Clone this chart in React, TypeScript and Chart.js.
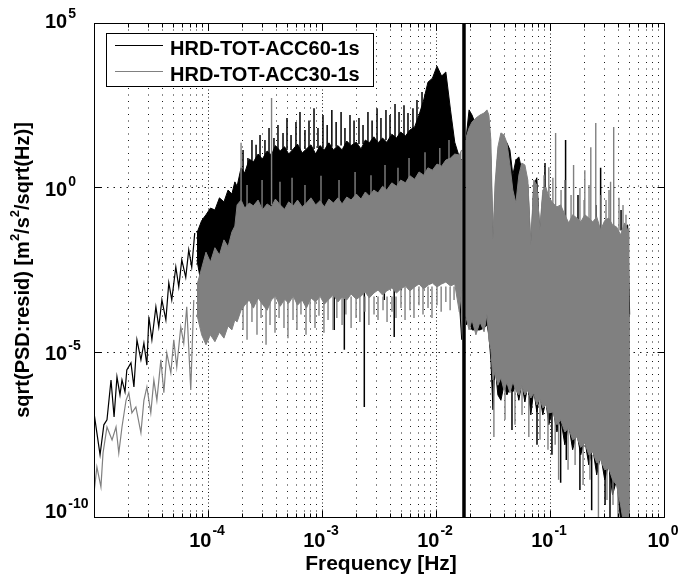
import React, { useEffect, useRef } from 'react';
import { Chart, registerables } from 'chart.js';

Chart.register(...registerables);

// ---------------- HRD-TOT-ACC60-1s (black) ----------------
const acc60LowF = [1.0e-5, 1.06e-5, 1.13e-5, 1.22e-5, 1.30e-5, 1.41e-5, 1.50e-5, 1.59e-5, 1.69e-5, 1.76e-5, 1.87e-5, 1.94e-5, 2.11e-5, 2.24e-5, 2.38e-5, 2.58e-5, 2.74e-5, 2.91e-5, 3.03e-5, 3.22e-5, 3.49e-5, 3.70e-5, 3.94e-5, 4.27e-5, 4.53e-5, 4.81e-5, 5.22e-5, 5.54e-5, 5.89e-5, 6.38e-5, 6.78e-5, 7.20e-5, 7.65e-5];
const acc60LowV = [1.45e-7, 3.6e-8, 7.7e-9, 6.3e-8, 8.9e-8, 1.45e-6, 1.1e-7, 1.8e-6, 5.1e-7, 1.45e-6, 6.3e-7, 2.9e-6, 4.8e-6, 8.9e-7, 2.4e-5, 5.9e-6, 1.9e-5, 4.1e-6, 1.2e-4, 2.4e-5, 2.4e-4, 5.9e-5, 3.9e-4, 9.6e-5, 1.3e-3, 3.9e-4, 3.9e-3, 9.7e-4, 6.4e-3, 1.9e-3, 1.3e-2, 3.9e-3, 4.2e-2];

// shared frequency grid of the dense band below the 0.0176 Hz line
const bandF = [8.0e-5, 8.8e-5, 9.6e-5, 1.05e-4, 1.15e-4, 1.26e-4, 1.38e-4, 1.5e-4, 1.62e-4, 1.72e-4, 1.8e-4, 1.95e-4, 2.1e-4, 2.3e-4, 2.5e-4, 2.75e-4, 3.0e-4, 3.3e-4, 3.6e-4, 3.9e-4, 4.3e-4, 4.7e-4, 5.1e-4, 5.6e-4, 6.1e-4, 6.7e-4, 7.3e-4, 8.0e-4, 8.8e-4, 9.6e-4, 1.05e-3, 1.15e-3, 1.26e-3, 1.38e-3, 1.5e-3, 1.65e-3, 1.8e-3, 2.0e-3, 2.2e-3, 2.4e-3, 2.6e-3, 2.85e-3, 3.1e-3, 3.4e-3, 3.7e-3, 4.1e-3, 4.5e-3, 4.9e-3, 5.4e-3, 5.9e-3, 6.5e-3, 7.1e-3, 7.8e-3, 8.5e-3, 9.3e-3, 1.02e-2, 1.12e-2, 1.22e-2, 1.34e-2, 1.46e-2, 1.6e-2, 1.68e-2];
const acc60BandHi = [0.042, 0.10, 0.15, 0.24, 0.21, 0.49, 0.37, 0.85, 0.64, 1.5, 1.1, 4.0, 2.8, 7.4, 6.0, 10.5, 7.4, 13, 9.8, 19, 13, 17.5, 10.5, 15, 21, 11.3, 15, 20, 10.5, 19, 14, 23, 14, 19, 14, 26, 19, 24, 15, 28, 23, 35, 23, 32, 24, 42, 32, 49, 37, 56, 70, 160, 460, 1600, 2100, 4900, 2450, 3250, 230, 24, 8.6, 6.9];
const acc60BandLo = [6.4e-3, 1.0e-3, 1.1e-3, 5.5e-4, 1.6e-3, 7.8e-4, 2.2e-3, 1.1e-3, 3.2e-3, 2.2e-3, 6.4e-3, 4.5e-3, 9e-3, 5.5e-3, 1.3e-2, 7.3e-3, 1.5e-2, 9e-3, 1.3e-2, 9e-3, 1.5e-2, 7.3e-3, 1.3e-2, 9e-3, 1.3e-2, 9e-3, 1.5e-2, 9e-3, 1.3e-2, 9e-3, 1.5e-2, 9e-3, 1.3e-2, 1.3e-2, 1.5e-2, 1.5e-2, 9e-3, 1.3e-2, 9e-3, 1.3e-2, 1.5e-2, 1.3e-2, 1.8e-2, 1.3e-2, 1.8e-2, 1.8e-2, 2.6e-2, 2.0e-2, 3.0e-2, 2.6e-2, 3.7e-2, 4.5e-2, 5.2e-2, 6.0e-2, 7.4e-2, 7.4e-2, 0.1, 0.12, 0.15, 0.15, 3.9e-4, 2.4e-5];

// shared frequency grid above the 0.0176 Hz line
const highF = [0.0183, 0.0195, 0.0207, 0.0224, 0.0243, 0.0264, 0.028, 0.0291, 0.0303, 0.0316, 0.0329, 0.0349, 0.0371, 0.0394, 0.0419, 0.0445, 0.0472, 0.0502, 0.0533, 0.0566, 0.0602, 0.0639, 0.0679, 0.0721, 0.0766, 0.0814, 0.0865, 0.0919, 0.0976, 0.106, 0.115, 0.124, 0.135, 0.146, 0.158, 0.172, 0.186, 0.202, 0.219, 0.237, 0.257, 0.278, 0.302, 0.327, 0.354, 0.384, 0.416, 0.451, 0.48, 0.5];
const acc60HighHi = [28, 230, 160, 80, 99, 110, 130, 99, 6.9, 0.018, 0.42, 12, 28, 28, 23, 14, 2.4, 6.9, 8.6, 3.4, 3.0, 1.2, 0.013, 1.2, 2.0, 0.037, 0.6, 0.69, 0.42, 0.26, 0.18, 0.21, 0.10, 0.069, 0.10, 0.085, 0.069, 0.10, 0.091, 0.069, 0.091, 0.042, 0.074, 0.085, 0.052, 0.045, 0.026, 0.060, 0.074, 1.4e-4];
const acc60HighLo = [6.8e-5, 8.4e-5, 4.8e-5, 4.8e-5, 4.8e-5, 5.5e-5, 6.8e-5, 3.4e-5, 5.9e-6, 1.8e-7, 4.1e-6, 5.1e-7, 3.5e-7, 1.0e-6, 5.1e-7, 8.3e-7, 6.3e-7, 1.0e-6, 3.5e-7, 1.2e-6, 3.1e-7, 1.0e-6, 1.26e-7, 7.2e-7, 1.55e-7, 5.1e-7, 1.26e-7, 3.5e-7, 6.3e-8, 2.05e-7, 3.8e-8, 1.0e-7, 1.55e-8, 6.3e-8, 1.1e-8, 3.6e-8, 7.7e-9, 2.2e-8, 3.8e-9, 1.25e-8, 1.9e-9, 7.7e-9, 1.35e-9, 3.8e-9, 4.7e-10, 1.35e-9, 8e-11, 2e-11, 2e-11, 2e-11];

// narrow spikes (frequency, start value, end value)
const acc60UpF = [2.03e-4, 2.24e-4, 2.43e-4, 2.64e-4, 2.86e-4, 3.16e-4, 3.43e-4, 3.79e-4, 4.11e-4, 4.55e-4, 4.93e-4, 5.35e-4, 5.91e-4, 6.41e-4, 7.09e-4, 7.69e-4, 8.51e-4, 9.22e-4, 1.02e-3, 1.11e-3, 1.22e-3, 1.33e-3, 1.47e-3, 1.59e-3, 1.76e-3, 1.91e-3, 2.11e-3, 2.29e-3, 2.53e-3, 2.75e-3, 3.04e-3, 3.29e-3, 3.64e-3, 3.95e-3, 4.37e-3, 4.74e-3, 5.24e-3, 5.68e-3, 6.28e-3, 6.81e-3, 7.54e-3];
const acc60UpFrom = [3.0, 4.0, 5.6, 6.9, 8.6, 9.8, 11.3, 12, 13, 14, 14, 14, 14, 14, 15, 15, 15, 16, 16, 16, 17.5, 17.5, 19, 19, 20, 20, 21, 21, 23, 23, 24, 26, 28, 30, 32, 35, 37, 42, 56, 85, 230];
const acc60UpTo = [14, 7.9, 28, 20, 40, 28, 65, 32, 80, 46, 130, 40, 99, 200, 56, 110, 260, 65, 160, 80, 230, 99, 200, 65, 160, 110, 130, 80, 200, 110, 260, 130, 230, 160, 350, 200, 320, 185, 260, 460, 800];

const acc60SpikeF = [1.28e-3, 1.57e-3, 2.35e-3, 3.52e-3, 4.30e-3, 4.96e-3, 0.137, 0.278, 0.0904, 0.176, 0.253, 0.420, 0.124, 0.139, 0.232, 0.0464, 0.0769, 0.104, 0.183, 0.304, 0.336];
const acc60SpikeFrom = [9e-3, 9e-3, 9e-3, 1.3e-2, 1.8e-2, 2.6e-2, 0.05, 0.05, 0.05, 0.05, 0.05, 0.05, 1e-7, 4.4e-8, 7.7e-9, 1e-6, 3e-7, 2e-7, 2e-8, 5e-9, 4e-9];
const acc60SpikeTo = [4.8e-5, 1.2e-5, 2.2e-7, 3.9e-4, 2.9e-5, 7.8e-4, 28, 4.0, 5.6, 0.6, 0.3, 0.21, 1.1e-9, 5.4e-9, 1.6e-10, 4.4e-8, 1.55e-8, 7.7e-9, 6.6e-10, 2.3e-10, 1e-10];

const acc60NotchF = [0.0176, 0.0176];
const acc60NotchV = [1e6, 1e-11];

// ---------------- HRD-TOT-ACC30-1s (gray) ----------------
const acc30LowF = [1.0e-5, 1.06e-5, 1.15e-5, 1.20e-5, 1.30e-5, 1.44e-5, 1.56e-5, 1.65e-5, 1.76e-5, 1.91e-5, 2.02e-5, 2.15e-5, 2.33e-5, 2.58e-5, 2.74e-5, 2.91e-5, 3.15e-5, 3.35e-5, 3.56e-5, 3.86e-5, 4.10e-5, 4.35e-5, 4.72e-5, 5.01e-5, 5.32e-5, 5.77e-5, 6.13e-5, 6.51e-5, 7.06e-5, 7.50e-5];
const acc30LowV = [5.4e-10, 3.3e-9, 8.2e-10, 8.8e-9, 5.4e-8, 2.2e-8, 5.4e-8, 8.8e-9, 5.4e-8, 3.5e-7, 5.9e-7, 1.45e-7, 2.2e-7, 3.6e-8, 3.5e-7, 8.9e-7, 1.45e-7, 1.45e-6, 3.5e-7, 5.9e-6, 5.9e-7, 9.6e-6, 2.4e-6, 2.4e-5, 3.6e-6, 5.9e-5, 1.9e-5, 2.4e-4, 7.2e-7, 3.9e-4];

const acc30BandHi = [1.1e-3, 3.6e-3, 0.011, 5.5e-3, 0.015, 9e-3, 0.026, 0.016, 0.045, 0.068, 0.30, 0.42, 0.24, 0.34, 0.28, 0.42, 0.21, 0.32, 0.26, 0.45, 0.30, 0.22, 0.37, 0.28, 0.42, 0.26, 0.34, 0.49, 0.30, 0.40, 0.26, 0.45, 0.34, 0.49, 0.32, 0.52, 0.42, 0.64, 0.45, 0.74, 0.56, 0.85, 0.69, 1.1, 0.85, 1.4, 1.1, 1.7, 1.4, 2.3, 1.8, 3.0, 2.4, 4.0, 3.4, 5.2, 4.5, 6.9, 7.9, 10.5, 9.8, 14];
const acc30BandLo = [1.4e-4, 3.4e-5, 1.7e-5, 3.4e-5, 2.1e-5, 4.1e-5, 2.7e-5, 6.3e-5, 4.8e-5, 9.6e-5, 8.4e-5, 1.9e-4, 2.7e-4, 3.9e-4, 2.2e-4, 4.5e-4, 2.9e-4, 1.9e-4, 3.9e-4, 5.1e-4, 2.5e-4, 4.1e-4, 3.1e-4, 5.1e-4, 2.7e-4, 3.9e-4, 2.2e-4, 4.5e-4, 3.4e-4, 5.1e-4, 2.9e-4, 4.1e-4, 5.5e-4, 3.4e-4, 4.8e-4, 3.9e-4, 5.9e-4, 4.1e-4, 5.1e-4, 6.8e-4, 4.5e-4, 6.3e-4, 7.8e-4, 5.5e-4, 7.3e-4, 9.0e-4, 6.3e-4, 8.4e-4, 1.03e-3, 7.3e-4, 9.7e-4, 1.19e-3, 8.4e-4, 1.1e-3, 1.27e-3, 9.7e-4, 1.19e-3, 1.36e-3, 1.03e-3, 1.19e-3, 1.7e-4, 7.8e-4];

const acc30HighHi = [32, 65, 99, 130, 160, 185, 230, 160, 28, 0.026, 1.2, 17, 46, 40, 23, 4.9, 0.85, 0.34, 2.4, 5.6, 4.9, 1.7, 0.018, 1.7, 1.2, 0.052, 0.85, 1.05, 0.52, 0.34, 0.26, 0.30, 0.15, 0.085, 0.15, 0.12, 0.091, 0.15, 0.12, 0.091, 0.13, 0.052, 0.10, 0.12, 0.074, 0.064, 0.037, 0.085, 0.052, 0.060];
const acc30HighLo = [1.2e-4, 4.8e-5, 9.6e-5, 3.4e-5, 8.4e-5, 4.2e-5, 1.4e-4, 2.4e-5, 1.2e-5, 1.45e-6, 2.5e-6, 1.0e-6, 1.7e-6, 7.2e-7, 1.2e-6, 5.9e-7, 1.26e-6, 7.2e-7, 5.1e-7, 1.0e-6, 5.1e-7, 7.2e-7, 4.1e-7, 5.9e-7, 2.5e-7, 4.1e-7, 2.05e-7, 2.5e-7, 1.45e-7, 1.55e-7, 6.3e-8, 8.9e-8, 3.8e-8, 5.1e-8, 2.2e-8, 2.7e-8, 1.3e-8, 1.8e-8, 7.7e-9, 9.5e-9, 4.4e-9, 5.4e-9, 2.7e-9, 3.1e-9, 1.35e-9, 9.4e-10, 2.3e-10, 4e-11, 2e-11, 2e-11];

const acc30DownF = [2.03e-4, 2.20e-4, 2.43e-4, 2.69e-4, 2.92e-4, 3.23e-4, 3.50e-4, 3.87e-4, 4.20e-4, 4.64e-4, 5.03e-4, 5.57e-4, 6.03e-4, 6.54e-4, 7.24e-4, 7.85e-4, 8.68e-4, 9.41e-4, 1.04e-3, 1.13e-3, 1.25e-3, 1.35e-3, 1.50e-3, 1.62e-3, 1.80e-3, 1.99e-3, 2.15e-3, 2.38e-3, 2.58e-3, 2.86e-3, 3.10e-3, 3.43e-3, 3.72e-3, 4.11e-3, 4.46e-3, 4.93e-3, 5.35e-3, 5.91e-3, 6.41e-3, 7.09e-3, 7.69e-3, 8.51e-3, 9.22e-3, 1.02e-2, 1.11e-2, 1.22e-2, 1.33e-2, 1.44e-2];
const acc30DownFrom = [5e-4, 5e-4, 5e-4, 5e-4, 5e-4, 5e-4, 5e-4, 5e-4, 5e-4, 5e-4, 5e-4, 5e-4, 5e-4, 5e-4, 5e-4, 5e-4, 5e-4, 5e-4, 5e-4, 5e-4, 5e-4, 5e-4, 5e-4, 5e-4, 5e-4, 5e-4, 5e-4, 5e-4, 5e-4, 5e-4, 5e-4, 5e-4, 5e-4, 5e-4, 5e-4, 1e-3, 1e-3, 1e-3, 1e-3, 1e-3, 1e-3, 1e-3, 1e-3, 1e-3, 1e-3, 1e-3, 1e-3, 1e-3];
const acc30DownTo = [4.8e-5, 2.4e-5, 8.4e-5, 3.4e-5, 1.1e-4, 1.7e-5, 6.8e-5, 3.9e-5, 1.1e-4, 5.5e-5, 2.7e-5, 9.6e-5, 4.8e-5, 1.4e-4, 3.4e-5, 8.4e-5, 5.5e-5, 1.3e-4, 3.9e-5, 9.6e-5, 4.8e-5, 1.1e-4, 6.8e-5, 1.4e-4, 5.5e-5, 1.1e-4, 8.4e-5, 1.7e-4, 6.8e-5, 1.4e-4, 9.6e-5, 1.9e-4, 8.4e-5, 1.7e-4, 1.1e-4, 2.2e-4, 9.6e-5, 1.9e-4, 1.1e-4, 2.7e-4, 1.4e-4, 2.2e-4, 1.1e-4, 2.7e-4, 1.7e-4, 3.4e-4, 1.9e-4, 3.9e-4];

const acc30UpF = [2.20e-4, 2.98e-4, 4.28e-4, 5.46e-4, 7.09e-4, 9.80e-4, 1.41e-3, 1.95e-3, 2.69e-3, 3.57e-3, 4.64e-3, 5.80e-3, 8.01e-3, 1.08e-2, 1.30e-2];
const acc30UpFrom = [0.2, 0.2, 0.25, 0.25, 0.25, 0.3, 0.35, 0.45, 0.6, 0.9, 1.2, 1.6, 2.5, 4, 6];
const acc30UpTo = [1.2, 1.7, 1.5, 2.0, 1.2, 2.3, 1.7, 3.0, 2.4, 4.9, 4.0, 7.9, 12, 16, 28];

const acc30SpikeF = [1.95e-4, 3.61e-4, 0.0976, 0.112, 0.161, 0.202, 0.228, 0.252, 0.340, 0.362, 0.0886, 0.0980, 0.106, 0.125, 0.135, 0.153, 0.183, 0.199, 0.220, 0.280, 0.310, 0.329, 0.403, 0.437, 0.464, 0.0322, 0.0652, 0.119, 0.266, 0.0403, 0.0493, 0.0568, 0.0817, 0.0960, 0.111, 0.144, 0.166, 0.195, 0.224, 0.316, 0.357, 0.395];
const acc30SpikeFrom = [0.42, 0.30, 0.05, 0.05, 0.05, 0.05, 0.05, 0.05, 0.05, 0.05, 0.05, 0.05, 0.05, 0.05, 0.05, 0.05, 0.05, 0.05, 0.05, 0.05, 0.05, 0.05, 0.05, 0.05, 0.05, 1.45e-6, 5.1e-7, 8.9e-8, 8e-9, 1e-6, 1e-6, 1e-6, 5e-7, 5e-7, 5e-7, 1e-7, 1e-7, 3e-8, 3e-8, 1e-8, 1e-8, 1e-8];
const acc30SpikeTo = [23, 530, 4.2, 46, 4.9, 3.4, 17, 92, 1.5, 70, 2.4, 1.2, 2.0, 0.85, 1.7, 0.6, 0.98, 0.42, 1.2, 0.6, 0.42, 0.85, 0.49, 0.30, 0.15, 2.7e-8, 2.7e-8, 1.35e-9, 1e-10, 8.9e-8, 6.3e-8, 1.26e-7, 2.2e-8, 1.1e-8, 1.55e-8, 2.7e-9, 3.8e-9, 9.4e-10, 1.35e-9, 3.3e-10, 2.3e-10, 1e-10];

// ---------------- axes / labels ----------------
const seriesNames = ['HRD-TOT-ACC60-1s', 'HRD-TOT-ACC30-1s'];
const xTitle = 'Frequency [Hz]';
const yTitleParts = ['sqrt(PSD:resid) [m', '2', '/s', '2', '/sqrt(Hz)]'];
const xDecades = [1e-5, 1e-4, 1e-3, 1e-2, 1e-1];
const xLabelValues = [1e-4, 1e-3, 1e-2, 1e-1, 1];
const xLabelExps = ['-4', '-3', '-2', '-1', '0'];
const yLabelValues = [1e5, 1, 1e-5, 1e-10];
const yLabelExps = ['5', '0', '-5', '-10'];
const yGridValues = [1e-10, 1e-5, 1, 1e5];

const BLACK = '#000000';
const GRAY = '#808080';
const FONT = '"Liberation Sans", Arial, Helvetica, sans-serif';

const xGridValues: number[] = [];
xDecades.forEach((d) => {
  for (let k = 1; k <= 9; k++) xGridValues.push(d * k);
});
xGridValues.push(1);

const isDecade = (v: number) => Math.abs(Math.log10(v) - Math.round(Math.log10(v))) < 1e-6;

const pts = (f: number[], v: number[]) => f.map((x, i) => ({ x, y: v[i] }));
const spikePts = (f: number[], a: number[], b: number[]) =>
  f.flatMap((x, i) => [{ x, y: a[i] }, { x, y: b[i] }, { x, y: null as any }]);

const base = { pointRadius: 0, pointHoverRadius: 0, tension: 0, borderWidth: 1, clip: 0, spanGaps: false };

const datasets: any[] = [
  { ...base, label: 'acc60 line', data: pts(acc60NotchF, acc60NotchV), borderColor: BLACK, borderWidth: 3.5, fill: false, order: 0 },
  {
    ...base,
    label: 'acc30 spikes',
    data: [
      ...spikePts(acc30SpikeF, acc30SpikeFrom, acc30SpikeTo),
      ...spikePts(acc30DownF, acc30DownFrom, acc30DownTo),
      ...spikePts(acc30UpF, acc30UpFrom, acc30UpTo),
    ],
    borderColor: GRAY,
    borderWidth: 1.4,
    fill: false,
    order: 1,
  },
  { ...base, label: 'acc30 band hi', data: pts(bandF, acc30BandHi), borderColor: GRAY, backgroundColor: GRAY, fill: '+1', order: 2 },
  { ...base, label: 'acc30 band lo', data: pts(bandF, acc30BandLo), borderColor: GRAY, fill: false, order: 2 },
  { ...base, label: 'acc30 high hi', data: pts(highF, acc30HighHi), borderColor: GRAY, backgroundColor: GRAY, fill: '+1', order: 2 },
  { ...base, label: 'acc30 high lo', data: pts(highF, acc30HighLo), borderColor: GRAY, fill: false, order: 2 },
  { ...base, label: 'acc30 low', data: pts(acc30LowF, acc30LowV), borderColor: GRAY, borderWidth: 1.2, fill: false, order: 3 },
  {
    ...base,
    label: 'acc60 spikes',
    data: [...spikePts(acc60SpikeF, acc60SpikeFrom, acc60SpikeTo), ...spikePts(acc60UpF, acc60UpFrom, acc60UpTo)],
    borderColor: BLACK,
    borderWidth: 1.5,
    fill: false,
    order: 4,
  },
  { ...base, label: 'acc60 band hi', data: pts(bandF, acc60BandHi), borderColor: BLACK, backgroundColor: BLACK, fill: '+1', order: 5 },
  { ...base, label: 'acc60 band lo', data: pts(bandF, acc60BandLo), borderColor: BLACK, fill: false, order: 5 },
  { ...base, label: 'acc60 high hi', data: pts(highF, acc60HighHi), borderColor: BLACK, backgroundColor: BLACK, fill: '+1', order: 5 },
  { ...base, label: 'acc60 high lo', data: pts(highF, acc60HighLo), borderColor: BLACK, fill: false, order: 5 },
  { ...base, label: 'acc60 low', data: pts(acc60LowF, acc60LowV), borderColor: BLACK, borderWidth: 1.2, fill: false, order: 6 },
];

const align = (p: number) => Math.round(p - 0.5) + 0.5;

const framePlugin = {
  id: 'matlabFrame',
  afterDraw(chart: any) {
    const { ctx, chartArea: a, scales } = chart;
    const xs = scales.x;
    const ys = scales.y;
    const L = align(a.left);
    const R = align(a.right);
    const T = align(a.top);
    const B = align(a.bottom);
    ctx.save();
    ctx.strokeStyle = '#000';
    ctx.lineWidth = 1;
    ctx.setLineDash([]);
    ctx.beginPath();
    ctx.rect(L, T, R - L, B - T);
    xGridValues.forEach((v) => {
      const px = align(xs.getPixelForValue(v));
      const len = isDecade(v) ? 7 : 4;
      ctx.moveTo(px, B);
      ctx.lineTo(px, B - len);
      ctx.moveTo(px, T);
      ctx.lineTo(px, T + len);
    });
    yGridValues.forEach((v) => {
      const py = align(ys.getPixelForValue(v));
      ctx.moveTo(L, py);
      ctx.lineTo(L + 7, py);
      ctx.moveTo(R, py);
      ctx.lineTo(R - 7, py);
    });
    ctx.stroke();

    // tick labels
    ctx.fillStyle = '#000';
    ctx.textAlign = 'left';
    ctx.textBaseline = 'alphabetic';
    const bigFont = `bold 20px ${FONT}`;
    const smallFont = `bold 14px ${FONT}`;
    xLabelValues.forEach((v, i) => {
      const px = xs.getPixelForValue(v);
      ctx.font = bigFont;
      const wb = ctx.measureText('10').width;
      ctx.font = smallFont;
      const we = ctx.measureText(xLabelExps[i]).width;
      const start = px - (wb + 1 + we) / 2 - 1;
      ctx.font = bigFont;
      ctx.fillText('10', start, 547);
      ctx.font = smallFont;
      ctx.fillText(xLabelExps[i], start + wb + 1, 535);
    });
    yLabelValues.forEach((v, i) => {
      const py = ys.getPixelForValue(v);
      let baseY = py + 8;
      if (i === 0) baseY = py + 5;
      if (i === yLabelValues.length - 1) baseY = py + 1;
      ctx.font = bigFont;
      ctx.fillText('10', 45, baseY);
      const wb = ctx.measureText('10').width;
      ctx.font = smallFont;
      ctx.fillText(yLabelExps[i], 45 + wb + 1, baseY - 10);
    });

    // axis titles
    ctx.font = `bold 21px ${FONT}`;
    ctx.textAlign = 'center';
    ctx.fillText(xTitle, (a.left + a.right) / 2 + 2, 570);

    ctx.save();
    ctx.translate(29, (a.top + a.bottom) / 2);
    ctx.rotate(-Math.PI / 2);
    ctx.textAlign = 'left';
    const fonts = yTitleParts.map((_, i) => (i % 2 === 1 ? `bold 13px ${FONT}` : `bold 20px ${FONT}`));
    const widths = yTitleParts.map((t, i) => {
      ctx.font = fonts[i];
      return ctx.measureText(t).width;
    });
    const total = widths.reduce((s, w) => s + w, 0);
    let cx = -total / 2;
    yTitleParts.forEach((t, i) => {
      ctx.font = fonts[i];
      ctx.fillText(t, cx, i % 2 === 1 ? -10 : 0);
      cx += widths[i];
    });
    ctx.restore();

    // legend
    const lx = 106.5, ly = 33.5, lw = 267, lh = 53;
    ctx.fillStyle = '#fff';
    ctx.fillRect(lx, ly, lw, lh);
    ctx.strokeStyle = '#000';
    ctx.lineWidth = 1;
    ctx.strokeRect(lx, ly, lw, lh);
    const colors = [BLACK, GRAY];
    const rows = [45.5, 71.5];
    ctx.font = `bold 20px ${FONT}`;
    ctx.textAlign = 'left';
    seriesNames.forEach((name, i) => {
      ctx.strokeStyle = colors[i];
      ctx.beginPath();
      ctx.moveTo(115, rows[i]);
      ctx.lineTo(163, rows[i]);
      ctx.stroke();
      ctx.fillStyle = '#000';
      ctx.fillText(name, 170, rows[i] + 9);
    });
    ctx.restore();
  },
};

export default function App() {
  const ref = useRef<HTMLCanvasElement>(null);
  useEffect(() => {
    if (!ref.current) return;
    const chart = new Chart(ref.current, {
      type: 'line',
      data: { datasets },
      options: {
        animation: false,
        responsive: false,
        devicePixelRatio: 1,
        events: [],
        layout: { padding: { left: 94, top: 23, right: 16, bottom: 59 } },
        plugins: {
          legend: { display: false },
          tooltip: { enabled: false },
          title: { display: false },
        },
        scales: {
          x: {
            type: 'logarithmic',
            min: 1e-5,
            max: 1,
            afterBuildTicks: (s: any) => {
              s.ticks = xGridValues.map((v) => ({ value: v, major: isDecade(v) }));
            },
            afterFit: (s: any) => {
              s.height = 0;
            },
            ticks: { display: false },
            grid: { color: 'rgba(0,0,0,0.9)', lineWidth: 1, drawTicks: false },
            border: {
              display: false,
              dash: (c: any) => (c.tick && isDecade(c.tick.value) ? [1, 2.5] : [1, 5.5]),
            },
          },
          y: {
            type: 'logarithmic',
            min: 1e-10,
            max: 1e5,
            afterBuildTicks: (s: any) => {
              s.ticks = yGridValues.map((v) => ({ value: v, major: true }));
            },
            afterFit: (s: any) => {
              s.width = 0;
            },
            ticks: { display: false },
            grid: { color: 'rgba(0,0,0,0.9)', lineWidth: 1, drawTicks: false },
            border: { display: false, dash: [1.5, 5] },
          },
        },
      } as any,
      plugins: [framePlugin],
    });
    return () => chart.destroy();
  }, []);
  return (
    <div style={{ position: 'absolute', left: 0, top: 0, width: 680, height: 576, background: '#fff' }}>
      <canvas ref={ref} width={680} height={576} style={{ width: 680, height: 576, display: 'block' }} />
    </div>
  );
}
